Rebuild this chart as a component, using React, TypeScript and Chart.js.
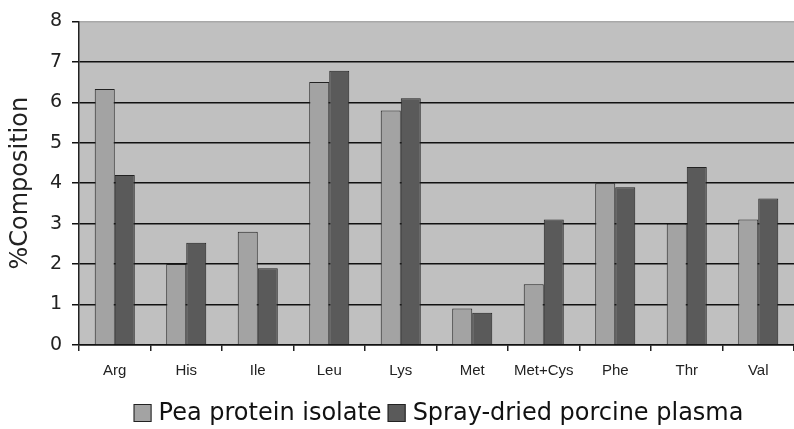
import React, { useEffect, useRef } from "react";
import { Chart, registerables } from "chart.js";

Chart.register(...registerables);

const categories = ["Arg", "His", "Ile", "Leu", "Lys", "Met", "Met+Cys", "Phe", "Thr", "Val"];
const peaValues = [6.33, 2.0, 2.8, 6.5, 5.8, 0.9, 1.5, 4.0, 3.0, 3.1];
const plasmaValues = [4.2, 2.53, 1.9, 6.78, 6.1, 0.8, 3.1, 3.9, 4.4, 3.62];
const seriesNames = ["Pea protein isolate", "Spray-dried porcine plasma"];
const yTitle = "%Composition";

const FONT = "'DejaVu Sans', sans-serif";
const FONT_X = "'Liberation Sans', Arial, sans-serif";

const plotBg = {
  id: "plotBg",
  beforeDraw(chart: any) {
    const { ctx, chartArea } = chart;
    ctx.save();
    ctx.fillStyle = "#c0c0c0";
    ctx.fillRect(chartArea.left, chartArea.top, chartArea.right - chartArea.left, chartArea.bottom - chartArea.top);
    ctx.restore();
  },
};

// Legend drawn under the plot area, centered on it, from the datasets
const plotLegend = {
  id: "plotLegend",
  afterDraw(chart: any) {
    const { ctx, chartArea } = chart;
    const box = 18;
    const gapBoxText = 7;
    const gapItems = 6;
    ctx.save();
    ctx.font = "24px 'DejaVu Sans', sans-serif";
    ctx.textBaseline = "middle";
    const items = chart.data.datasets.map((d: any) => ({
      label: d.label,
      color: d.backgroundColor,
      w: ctx.measureText(d.label).width,
    }));
    const total = items.reduce((s: number, it: any) => s + box + gapBoxText + it.w, 0) + gapItems * (items.length - 1);
    const center = (chartArea.left + chartArea.right) / 2 + 2;
    let x = center - total / 2;
    const cy = 413;
    items.forEach((it: any) => {
      ctx.fillStyle = it.color;
      ctx.fillRect(x, cy - box / 2, box, box);
      ctx.strokeStyle = "#222";
      ctx.lineWidth = 1;
      ctx.strokeRect(x + 0.5, cy - box / 2 + 0.5, box - 1, box - 1);
      x += box + gapBoxText;
      ctx.fillStyle = "#111";
      ctx.fillText(it.label, x, cy + 1);
      x += it.w + gapItems;
    });
    ctx.restore();
  },
};

export default function App() {
  const ref = useRef<HTMLCanvasElement | null>(null);
  useEffect(() => {
    document.body.style.margin = "0";
    const chart = new Chart(ref.current as HTMLCanvasElement, {
      type: "bar",
      data: {
        labels: categories,
        datasets: [
          {
            label: seriesNames[0],
            data: peaValues,
            backgroundColor: "#a3a3a3",
            borderColor: "#222",
            borderWidth: 1,
          },
          {
            label: seriesNames[1],
            data: plasmaValues,
            backgroundColor: "#5a5a5a",
            borderColor: "#222",
            borderWidth: 1,
          },
        ],
      },
      options: {
        animation: false,
        responsive: true,
        maintainAspectRatio: false,
        layout: { padding: { top: 17, right: 0, left: 0, bottom: 44 } },
        datasets: { bar: { categoryPercentage: 0.56, barPercentage: 1.0 } },
        plugins: {
          tooltip: { enabled: false },
          legend: { display: false },
        },
        scales: {
          x: {
            grid: {
              offset: true,
              drawOnChartArea: false,
              tickLength: 6,
              color: "#222",
              lineWidth: 1.5,
            },
            border: { display: true, color: "#111", width: 1.5 },
            ticks: { font: { family: FONT_X, size: 15 }, color: "#222", padding: 11 },
            afterFit: (s: any) => {
              s.height = 40;
            },
          },
          y: {
            min: 0,
            max: 8,
            ticks: { stepSize: 1, font: { family: FONT, size: 19 }, color: "#222", padding: 10 },
            grid: {
              color: (c: any) => (c.tick && c.tick.value === 8 ? "#a8a8a8" : "#111"),
              tickColor: "#111",
              lineWidth: 1.5,
              tickLength: 7,
            },
            border: { display: true, color: "#222", width: 1.5 },
            title: { display: true, text: yTitle, font: { family: FONT, size: 24 }, color: "#222", padding: 6 },
            afterFit: (s: any) => {
              s.width = 79;
            },
          },
        },
      },
      plugins: [plotBg, plotLegend],
    });
    return () => chart.destroy();
  }, []);
  return (
    <div style={{ position: "fixed", left: 0, top: 0, width: 794, height: 429, background: "#fff" }}>
      <canvas ref={ref} />
    </div>
  );
}
